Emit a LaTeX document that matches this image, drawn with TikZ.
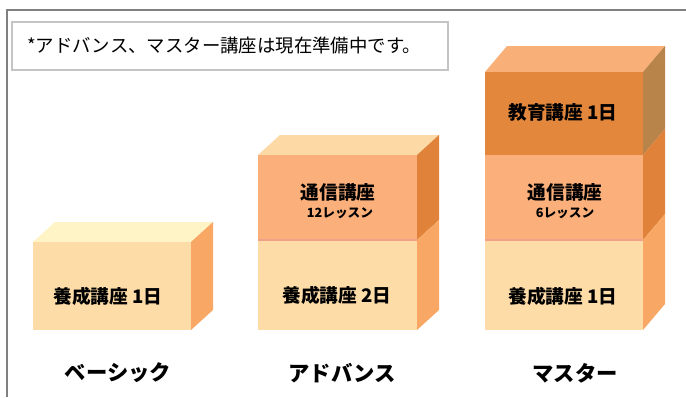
\documentclass[tikz,border=0pt]{standalone}
\usepackage{fontspec}
\newfontfamily\jpfont{Noto Sans CJK JP}
\definecolor{framegray}{HTML}{808080}
\definecolor{notegray}{HTML}{C4C4C4}
\definecolor{frontlight}{HTML}{FDDCA8}
\definecolor{frontmid}{HTML}{FBB07B}
\definecolor{frontdark}{HTML}{E2873C}
\definecolor{topyellow}{HTML}{FEF4C6}
\definecolor{toppeach}{HTML}{FDD9A6}
\definecolor{topsalmon}{HTML}{F8AF78}
\definecolor{sidelight}{HTML}{F8A864}
\definecolor{sidemid}{HTML}{E0823A}
\definecolor{sidedark}{HTML}{B8844A}
\definecolor{divline}{HTML}{F3A08A}
\begin{document}
\begin{tikzpicture}[x=0.75pt,y=-0.75pt]
\tikzstyle{every node}+=[inner sep=0pt]
\tikzstyle{tier}=[font=\jpfont\bfseries\fontsize{14}{16}\selectfont]
\tikzstyle{lesson}=[font=\jpfont\bfseries\fontsize{9.5}{11}\selectfont]
\tikzstyle{course}=[font=\jpfont\bfseries\fontsize{16}{18}\selectfont]
\tikzstyle{notetext}=[font=\jpfont\fontsize{13.8}{16}\selectfont]
\useasboundingbox (0,0) rectangle (686,397);
\fill [white] (0,0) rectangle (686,397);
\draw [framegray, line width=2.2pt] (7,397) -- (7,10) -- (686,10);
% note
\draw [notegray, line width=1.2pt, fill=white] (12,22) rectangle (448,70);
\node [notetext, anchor=west] (note) at (27,46) {*アドバンス、マスター講座は現在準備中です。};
% basic
\fill [topyellow] (33,242) -- (55,222) -- (213,222) -- (191,242) -- cycle;
\fill [sidelight] (191,242) -- (213,222) -- (213,310) -- (191,330) -- cycle;
\fill [frontlight] (33,242) rectangle (191,330);
% advance
\fill [toppeach] (258,155) -- (280,135) -- (439,135) -- (417,155) -- cycle;
\fill [sidemid] (417,155) -- (439,135) -- (439,220) -- (417,240) -- cycle;
\fill [sidelight] (417,240) -- (439,220) -- (439,310) -- (417,330) -- cycle;
\fill [frontmid] (258,155) rectangle (417,240);
\fill [frontlight] (258,240) rectangle (417,330);
\draw [divline, line width=1.2pt] (258,240) -- (417,240);
% master
\fill [topsalmon] (485,72) -- (507,46) -- (665,46) -- (643,72) -- cycle;
\fill [sidedark] (643,72) -- (665,46) -- (665,129) -- (643,155) -- cycle;
\fill [sidemid] (643,155) -- (665,129) -- (665,214) -- (643,240) -- cycle;
\fill [sidelight] (643,240) -- (665,214) -- (665,304) -- (643,330) -- cycle;
\fill [frontdark] (485,72) rectangle (643,155);
\fill [frontmid] (485,155) rectangle (643,240);
\fill [frontlight] (485,240) rectangle (643,330);
\draw [divline, line width=1.2pt] (485,240) -- (643,240);
% labels
\node [tier] (basicone) at (108,296) {養成講座 1日};
\node [tier] (advtwo) at (338,192) {通信講座};
\node [lesson] (advlesson) at (340,213) {12レッスン};
\node [tier] (advone) at (337,295) {養成講座 2日};
\node [tier] (masthree) at (563,112) {教育講座 1日};
\node [tier] (mastwo) at (565,192) {通信講座};
\node [lesson] (maslesson) at (565,213) {6レッスン};
\node [tier] (masone) at (563,296) {養成講座 1日};
\node [course] (basic) at (118,373) {ベーシック};
\node [course] (advance) at (342,373) {アドバンス};
\node [course] (master) at (575,373) {マスター};
\end{tikzpicture}
\end{document}
